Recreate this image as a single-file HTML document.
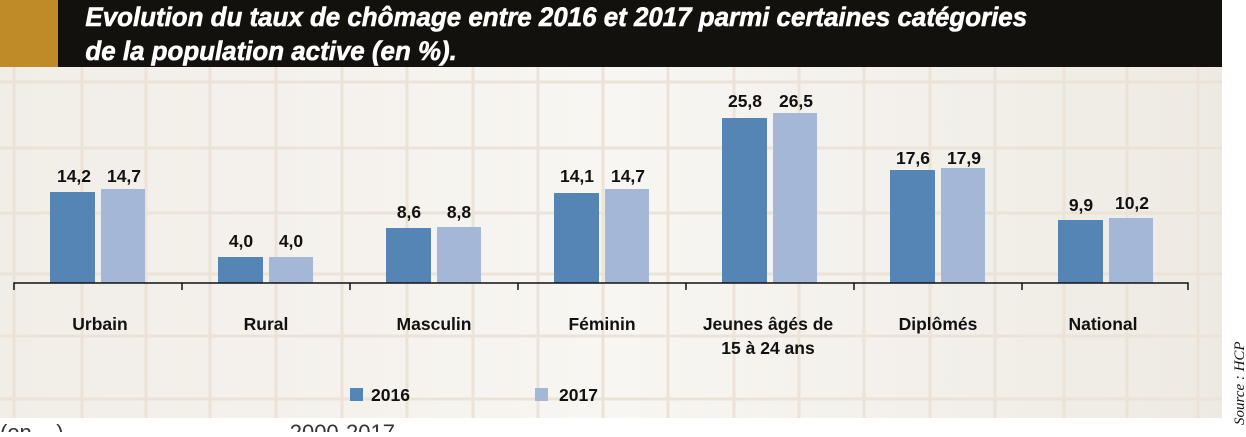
<!DOCTYPE html>
<html><head><meta charset="utf-8"><style>
body{margin:0;width:1246px;height:432px;overflow:hidden;background:#fff;font-family:"Liberation Sans",sans-serif}
</style></head><body>
<svg width="1246" height="432" xmlns="http://www.w3.org/2000/svg">
<defs><linearGradient id="bg" x1="0" x2="1"><stop offset="0" stop-color="#f1ede7"/><stop offset="0.5" stop-color="#f8f6f2"/><stop offset="1" stop-color="#eeeae3"/></linearGradient></defs>
<rect x="0" y="67" width="1222" height="351" fill="url(#bg)"/>
<g stroke="#ebe3d7" stroke-width="3">
<line x1="0" x2="1222" y1="82" y2="82"/><line x1="0" x2="1222" y1="148" y2="148"/><line x1="0" x2="1222" y1="213" y2="213"/><line x1="0" x2="1222" y1="274" y2="274"/><line x1="0" x2="1222" y1="336" y2="336"/><line x1="0" x2="1222" y1="399" y2="399"/>
<line x1="14" x2="14" y1="67" y2="418"/><line x1="82" x2="82" y1="67" y2="418"/><line x1="146" x2="146" y1="67" y2="418"/><line x1="210" x2="210" y1="67" y2="418"/><line x1="276" x2="276" y1="67" y2="418"/><line x1="342" x2="342" y1="67" y2="418"/><line x1="407" x2="407" y1="67" y2="418"/><line x1="473" x2="473" y1="67" y2="418"/><line x1="538" x2="538" y1="67" y2="418"/><line x1="603" x2="603" y1="67" y2="418"/><line x1="668" x2="668" y1="67" y2="418"/><line x1="734" x2="734" y1="67" y2="418"/><line x1="799" x2="799" y1="67" y2="418"/><line x1="864" x2="864" y1="67" y2="418"/><line x1="930" x2="930" y1="67" y2="418"/><line x1="995" x2="995" y1="67" y2="418"/><line x1="1064" x2="1064" y1="67" y2="418"/><line x1="1127" x2="1127" y1="67" y2="418"/><line x1="1198" x2="1198" y1="67" y2="418"/>
</g>
<rect x="0" y="0" width="58" height="67" fill="#be8b27"/>
<rect x="58" y="0" width="1164" height="67" fill="#12110d"/>
<g font-weight="bold" font-style="italic" font-size="27" fill="#fff" stroke="#fff" stroke-width="0.6" transform="scale(0.96,1)">
<text x="89" y="26">Evolution du taux de chômage entre 2016 et 2017 parmi certaines catégories</text>
<text x="89" y="60">de la population active (en %).</text>
</g>
<g fill="#5585b5">
<rect x="50" y="192" width="45" height="91"/><rect x="218" y="257" width="45" height="26"/><rect x="386" y="228" width="45" height="55"/><rect x="554" y="193" width="45" height="90"/><rect x="722" y="118" width="45" height="165"/><rect x="890" y="170" width="45" height="113"/><rect x="1058" y="220" width="45" height="63"/>
</g>
<g fill="#a5b7d6">
<rect x="101" y="189" width="44" height="94"/><rect x="269" y="257" width="44" height="26"/><rect x="437" y="227" width="44" height="56"/><rect x="605" y="189" width="44" height="94"/><rect x="773" y="113" width="44" height="170"/><rect x="941" y="168" width="44" height="115"/><rect x="1109" y="218" width="44" height="65"/>
</g>
<path d="M14 290V283H1188V290M182 283V290M350 283V290M518 283V290M686 283V290M854 283V290M1022 283V290" stroke="#111" stroke-width="1.5" fill="none"/>
<g font-weight="bold" font-size="17.5" fill="#111" text-anchor="middle">
<text x="74" y="182">14,2</text><text x="124" y="182">14,7</text>
<text x="241" y="247">4,0</text><text x="291" y="247">4,0</text>
<text x="409" y="218">8,6</text><text x="459" y="218">8,8</text>
<text x="577" y="182">14,1</text><text x="628" y="182">14,7</text>
<text x="745" y="107">25,8</text><text x="796" y="107">26,5</text>
<text x="913" y="164">17,6</text><text x="964" y="164">17,9</text>
<text x="1081" y="211">9,9</text><text x="1132" y="209">10,2</text>
<text x="100" y="330">Urbain</text><text x="266" y="330">Rural</text><text x="434" y="330">Masculin</text><text x="602" y="330">Féminin</text><text x="768" y="330">Jeunes âgés de</text><text x="768" y="354">15 à 24 ans</text><text x="938" y="330">Diplômés</text><text x="1103" y="330">National</text>
</g>
<rect x="350" y="388" width="13" height="13" fill="#5585b5"/>
<rect x="535" y="388" width="13" height="13" fill="#a5b7d6"/>
<g font-weight="bold" font-size="17.5" fill="#111"><text x="371" y="401">2016</text><text x="559" y="401">2017</text></g>
<text transform="translate(1244,425) rotate(-90)" font-family="Liberation Serif,serif" font-style="italic" font-size="15" fill="#111">Source : HCP</text>
<text x="0" y="440" font-size="22" fill="#333">(en ...) ... ... ... ... ... ... ... ... ... 2000-2017 ... ... ... ... ... ... ... ...</text>
</svg>
</body></html>
